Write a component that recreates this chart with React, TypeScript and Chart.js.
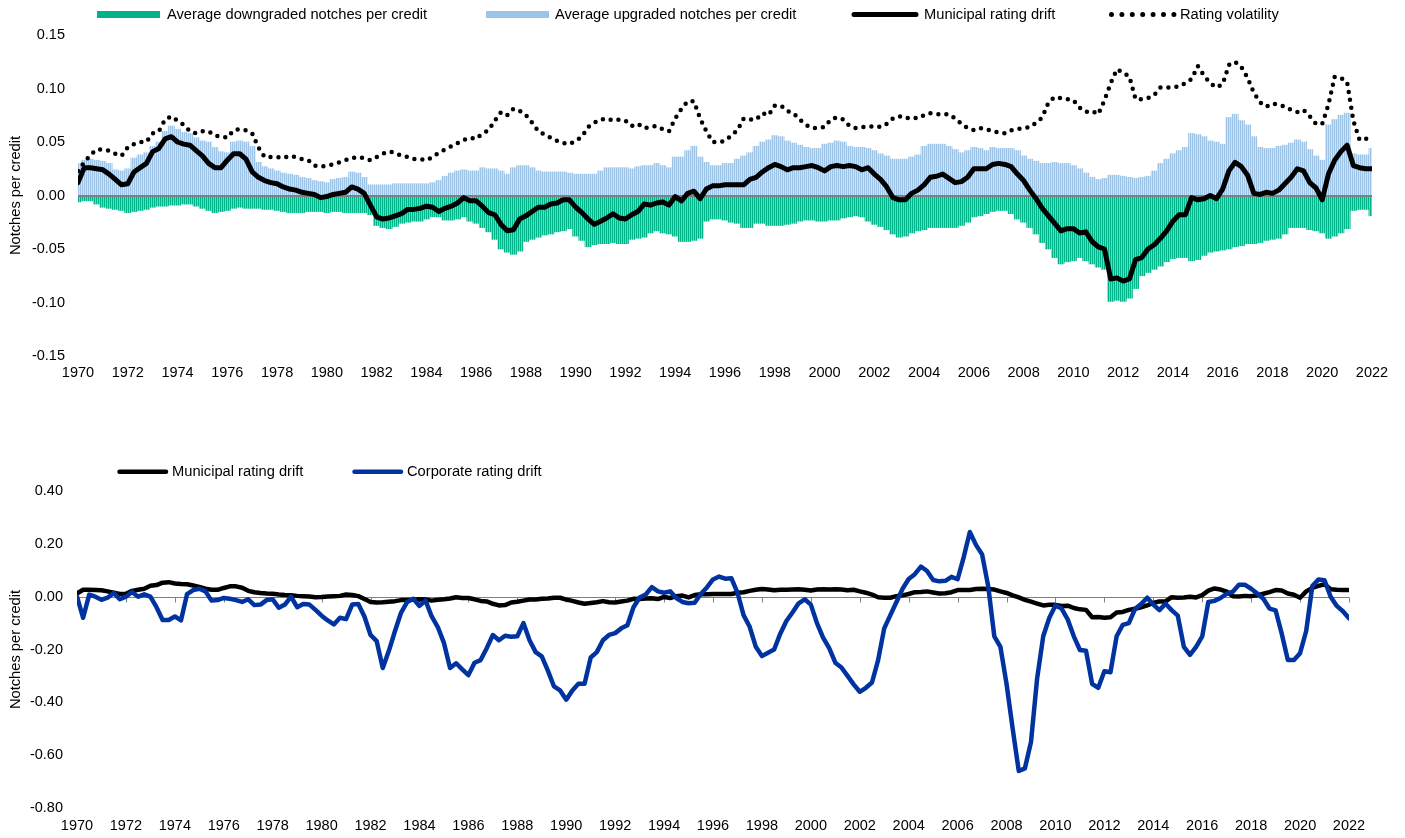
import { useEffect, useRef } from 'react';
import { Chart, registerables } from 'chart.js';

Chart.register(...registerables);

// ---- Data (quarterly readings, 1970 Q1 .. 2022 Q1) ----
const FIRST_YEAR = 1970;
const LAST_YEAR = 2022;
const PERIODS_PER_YEAR = 4;

const downgradedNotches: number[] = [
  -0.006, -0.005, -0.005, -0.008, // 1970
  -0.011, -0.012, -0.013, -0.014, // 1971
  -0.016, -0.015, -0.014, -0.013, // 1972
  -0.011, -0.010, -0.010, -0.009, // 1973
  -0.009, -0.008, -0.008, -0.010, // 1974
  -0.012, -0.014, -0.016, -0.015, // 1975
  -0.014, -0.012, -0.011, -0.012, // 1976
  -0.012, -0.012, -0.013, -0.013, // 1977
  -0.014, -0.015, -0.016, -0.016, // 1978
  -0.016, -0.015, -0.015, -0.015, // 1979
  -0.016, -0.015, -0.015, -0.016, // 1980
  -0.016, -0.016, -0.016, -0.018, // 1981
  -0.028, -0.030, -0.031, -0.029, // 1982
  -0.026, -0.025, -0.024, -0.024, // 1983
  -0.022, -0.020, -0.020, -0.023, // 1984
  -0.023, -0.022, -0.020, -0.024, // 1985
  -0.026, -0.030, -0.034, -0.041, // 1986
  -0.050, -0.053, -0.055, -0.052, // 1987
  -0.043, -0.041, -0.039, -0.037, // 1988
  -0.036, -0.034, -0.033, -0.031, // 1989
  -0.038, -0.042, -0.048, -0.046, // 1990
  -0.045, -0.045, -0.044, -0.045, // 1991
  -0.045, -0.041, -0.040, -0.039, // 1992
  -0.035, -0.033, -0.035, -0.036, // 1993
  -0.038, -0.043, -0.043, -0.042, // 1994
  -0.040, -0.024, -0.022, -0.022, // 1995
  -0.023, -0.025, -0.026, -0.030, // 1996
  -0.030, -0.026, -0.026, -0.028, // 1997
  -0.028, -0.028, -0.027, -0.026, // 1998
  -0.024, -0.023, -0.023, -0.024, // 1999
  -0.024, -0.023, -0.023, -0.021, // 2000
  -0.020, -0.019, -0.020, -0.024, // 2001
  -0.027, -0.029, -0.032, -0.036, // 2002
  -0.039, -0.038, -0.035, -0.033, // 2003
  -0.032, -0.030, -0.030, -0.030, // 2004
  -0.030, -0.030, -0.028, -0.025, // 2005
  -0.020, -0.019, -0.017, -0.015, // 2006
  -0.014, -0.014, -0.017, -0.022, // 2007
  -0.025, -0.030, -0.036, -0.044, // 2008
  -0.050, -0.058, -0.064, -0.062, // 2009
  -0.061, -0.058, -0.061, -0.064, // 2010
  -0.067, -0.069, -0.099, -0.098, // 2011
  -0.099, -0.096, -0.087, -0.075, // 2012
  -0.072, -0.069, -0.066, -0.062, // 2013
  -0.059, -0.058, -0.058, -0.061, // 2014
  -0.060, -0.056, -0.053, -0.052, // 2015
  -0.051, -0.050, -0.048, -0.047, // 2016
  -0.045, -0.045, -0.044, -0.042, // 2017
  -0.041, -0.040, -0.036, -0.030, // 2018
  -0.030, -0.030, -0.032, -0.033, // 2019
  -0.035, -0.040, -0.038, -0.035, // 2020
  -0.031, -0.014, -0.013, -0.013, // 2021
  -0.019, // 2022
];

const upgradedNotches: number[] = [
  0.030, 0.033, 0.034, 0.033, // 1970
  0.032, 0.030, 0.024, 0.023, // 1971
  0.025, 0.035, 0.038, 0.040, // 1972
  0.046, 0.050, 0.060, 0.065, // 1973
  0.062, 0.059, 0.058, 0.054, // 1974
  0.051, 0.050, 0.045, 0.041, // 1975
  0.040, 0.050, 0.051, 0.050, // 1976
  0.046, 0.031, 0.027, 0.025, // 1977
  0.023, 0.021, 0.020, 0.019, // 1978
  0.017, 0.016, 0.014, 0.013, // 1979
  0.012, 0.015, 0.016, 0.017, // 1980
  0.022, 0.021, 0.017, 0.010, // 1981
  0.010, 0.010, 0.010, 0.011, // 1982
  0.011, 0.011, 0.011, 0.011, // 1983
  0.011, 0.012, 0.014, 0.018, // 1984
  0.021, 0.023, 0.024, 0.023, // 1985
  0.023, 0.026, 0.025, 0.025, // 1986
  0.023, 0.020, 0.026, 0.028, // 1987
  0.028, 0.026, 0.023, 0.022, // 1988
  0.022, 0.022, 0.022, 0.021, // 1989
  0.020, 0.020, 0.020, 0.020, // 1990
  0.023, 0.026, 0.026, 0.026, // 1991
  0.026, 0.025, 0.027, 0.028, // 1992
  0.028, 0.030, 0.028, 0.026, // 1993
  0.036, 0.036, 0.042, 0.046, // 1994
  0.036, 0.031, 0.028, 0.028, // 1995
  0.030, 0.030, 0.034, 0.037, // 1996
  0.040, 0.046, 0.050, 0.052, // 1997
  0.056, 0.055, 0.051, 0.049, // 1998
  0.047, 0.045, 0.044, 0.044, // 1999
  0.048, 0.049, 0.051, 0.050, // 2000
  0.046, 0.045, 0.045, 0.044, // 2001
  0.042, 0.039, 0.037, 0.034, // 2002
  0.034, 0.034, 0.036, 0.038, // 2003
  0.046, 0.048, 0.048, 0.048, // 2004
  0.046, 0.043, 0.040, 0.042, // 2005
  0.045, 0.044, 0.042, 0.045, // 2006
  0.044, 0.044, 0.044, 0.042, // 2007
  0.037, 0.034, 0.032, 0.030, // 2008
  0.030, 0.031, 0.030, 0.030, // 2009
  0.028, 0.025, 0.021, 0.017, // 2010
  0.015, 0.016, 0.019, 0.019, // 2011
  0.018, 0.017, 0.016, 0.017, // 2012
  0.018, 0.023, 0.030, 0.034, // 2013
  0.039, 0.042, 0.045, 0.058, // 2014
  0.057, 0.055, 0.051, 0.050, // 2015
  0.048, 0.073, 0.076, 0.070, // 2016
  0.066, 0.055, 0.045, 0.044, // 2017
  0.044, 0.046, 0.047, 0.049, // 2018
  0.052, 0.050, 0.043, 0.037, // 2019
  0.033, 0.066, 0.071, 0.075, // 2020
  0.077, 0.039, 0.038, 0.038, // 2021
  0.044, // 2022
];

const municipalDrift: number[] = [
  0.012, 0.026, 0.026, 0.025, // 1970
  0.024, 0.020, 0.015, 0.010, // 1971
  0.011, 0.022, 0.026, 0.030, // 1972
  0.041, 0.044, 0.053, 0.055, // 1973
  0.050, 0.048, 0.047, 0.042, // 1974
  0.037, 0.030, 0.026, 0.026, // 1975
  0.033, 0.039, 0.039, 0.034, // 1976
  0.022, 0.017, 0.014, 0.012, // 1977
  0.011, 0.008, 0.006, 0.005, // 1978
  0.003, 0.002, 0.001, -0.002, // 1979
  -0.001, 0.001, 0.002, 0.003, // 1980
  0.008, 0.006, 0.002, -0.009, // 1981
  -0.020, -0.022, -0.021, -0.019, // 1982
  -0.017, -0.013, -0.013, -0.012, // 1983
  -0.010, -0.011, -0.015, -0.012, // 1984
  -0.010, -0.007, -0.002, -0.005, // 1985
  -0.005, -0.010, -0.016, -0.018, // 1986
  -0.027, -0.033, -0.032, -0.022, // 1987
  -0.019, -0.015, -0.011, -0.011, // 1988
  -0.008, -0.007, -0.004, -0.004, // 1989
  -0.011, -0.016, -0.022, -0.027, // 1990
  -0.024, -0.021, -0.017, -0.021, // 1991
  -0.022, -0.018, -0.015, -0.008, // 1992
  -0.009, -0.007, -0.006, -0.009, // 1993
  -0.001, -0.005, 0.002, 0.004, // 1994
  -0.003, 0.006, 0.009, 0.009, // 1995
  0.010, 0.010, 0.010, 0.010, // 1996
  0.015, 0.017, 0.022, 0.026, // 1997
  0.029, 0.027, 0.024, 0.026, // 1998
  0.026, 0.027, 0.028, 0.026, // 1999
  0.023, 0.027, 0.028, 0.027, // 2000
  0.028, 0.027, 0.024, 0.026, // 2001
  0.020, 0.015, 0.008, -0.002, // 2002
  -0.004, -0.004, 0.002, 0.005, // 2003
  0.010, 0.017, 0.018, 0.020, // 2004
  0.016, 0.012, 0.013, 0.017, // 2005
  0.025, 0.025, 0.025, 0.029, // 2006
  0.030, 0.029, 0.027, 0.020, // 2007
  0.014, 0.005, -0.003, -0.012, // 2008
  -0.019, -0.026, -0.033, -0.031, // 2009
  -0.031, -0.035, -0.034, -0.043, // 2010
  -0.048, -0.050, -0.078, -0.077, // 2011
  -0.080, -0.078, -0.060, -0.058, // 2012
  -0.050, -0.046, -0.040, -0.033, // 2013
  -0.024, -0.018, -0.018, -0.002, // 2014
  -0.004, -0.003, 0.000, -0.003, // 2015
  0.006, 0.023, 0.031, 0.027, // 2016
  0.019, 0.002, 0.001, 0.003, // 2017
  0.002, 0.005, 0.011, 0.017, // 2018
  0.025, 0.023, 0.012, 0.007, // 2019
  -0.004, 0.020, 0.033, 0.041, // 2020
  0.047, 0.028, 0.026, 0.025, // 2021
  0.025, // 2022
];

const ratingVolatility: number[] = [
  0.023, 0.031, 0.038, 0.043, // 1970
  0.043, 0.042, 0.039, 0.037, // 1971
  0.045, 0.048, 0.050, 0.050, // 1972
  0.058, 0.060, 0.071, 0.074, // 1973
  0.070, 0.066, 0.060, 0.058, // 1974
  0.060, 0.060, 0.056, 0.055, // 1975
  0.054, 0.061, 0.062, 0.061, // 1976
  0.058, 0.045, 0.036, 0.036, // 1977
  0.036, 0.035, 0.037, 0.036, // 1978
  0.034, 0.033, 0.028, 0.027, // 1979
  0.028, 0.029, 0.031, 0.033, // 1980
  0.035, 0.036, 0.035, 0.033, // 1981
  0.036, 0.039, 0.041, 0.040, // 1982
  0.037, 0.036, 0.034, 0.034, // 1983
  0.033, 0.036, 0.040, 0.043, // 1984
  0.046, 0.049, 0.052, 0.054, // 1985
  0.053, 0.058, 0.061, 0.070, // 1986
  0.078, 0.075, 0.081, 0.079, // 1987
  0.075, 0.068, 0.060, 0.057, // 1988
  0.054, 0.051, 0.049, 0.048, // 1989
  0.051, 0.055, 0.064, 0.068, // 1990
  0.071, 0.072, 0.070, 0.071, // 1991
  0.070, 0.065, 0.067, 0.063, // 1992
  0.064, 0.065, 0.062, 0.060, // 1993
  0.072, 0.081, 0.088, 0.088, // 1994
  0.072, 0.060, 0.050, 0.050, // 1995
  0.051, 0.056, 0.061, 0.072, // 1996
  0.071, 0.071, 0.077, 0.075, // 1997
  0.084, 0.084, 0.079, 0.077, // 1998
  0.071, 0.066, 0.063, 0.063, // 1999
  0.064, 0.071, 0.073, 0.071, // 2000
  0.065, 0.063, 0.064, 0.064, // 2001
  0.065, 0.064, 0.067, 0.072, // 2002
  0.074, 0.072, 0.073, 0.072, // 2003
  0.075, 0.077, 0.076, 0.076, // 2004
  0.076, 0.072, 0.067, 0.063, // 2005
  0.061, 0.063, 0.062, 0.060, // 2006
  0.059, 0.058, 0.061, 0.062, // 2007
  0.063, 0.064, 0.068, 0.073, // 2008
  0.087, 0.092, 0.091, 0.090, // 2009
  0.089, 0.082, 0.078, 0.079, // 2010
  0.076, 0.089, 0.105, 0.118, // 2011
  0.115, 0.111, 0.090, 0.090, // 2012
  0.091, 0.094, 0.101, 0.101, // 2013
  0.101, 0.102, 0.105, 0.109, // 2014
  0.121, 0.112, 0.105, 0.101, // 2015
  0.104, 0.122, 0.125, 0.120, // 2016
  0.110, 0.096, 0.087, 0.083, // 2017
  0.086, 0.085, 0.083, 0.080, // 2018
  0.078, 0.080, 0.074, 0.067, // 2019
  0.067, 0.085, 0.111, 0.110, // 2020
  0.106, 0.070, 0.052, 0.053, // 2021
  0.054, // 2022
];

const corporateDrift: number[] = [
  0.000, -0.080, 0.008, 0.000, // 1970
  -0.012, -0.004, 0.014, -0.010, // 1971
  0.000, 0.018, 0.000, 0.009, // 1972
  0.000, -0.040, -0.088, -0.088, // 1973
  -0.075, -0.090, 0.010, 0.025, // 1974
  0.030, 0.020, -0.015, -0.013, // 1975
  -0.005, -0.008, -0.013, -0.020, // 1976
  -0.010, -0.032, -0.030, -0.013, // 1977
  -0.010, -0.042, -0.030, 0.000, // 1978
  -0.040, -0.028, -0.030, -0.050, // 1979
  -0.072, -0.090, -0.105, -0.080, // 1980
  -0.085, -0.030, -0.028, -0.075, // 1981
  -0.145, -0.168, -0.270, -0.205, // 1982
  -0.130, -0.060, -0.020, -0.008, // 1983
  -0.035, -0.015, -0.075, -0.115, // 1984
  -0.175, -0.270, -0.252, -0.275, // 1985
  -0.297, -0.250, -0.240, -0.195, // 1986
  -0.145, -0.165, -0.148, -0.152, // 1987
  -0.150, -0.100, -0.165, -0.210, // 1988
  -0.226, -0.280, -0.340, -0.355, // 1989
  -0.390, -0.355, -0.330, -0.330, // 1990
  -0.230, -0.210, -0.165, -0.145, // 1991
  -0.138, -0.120, -0.108, -0.040, // 1992
  -0.003, 0.008, 0.036, 0.020, // 1993
  0.015, 0.020, -0.005, -0.020, // 1994
  -0.025, -0.023, 0.010, 0.035, // 1995
  0.065, 0.076, 0.068, 0.070, // 1996
  0.015, -0.070, -0.114, -0.190, // 1997
  -0.225, -0.212, -0.200, -0.140, // 1998
  -0.092, -0.060, -0.025, -0.010, // 1999
  -0.030, -0.100, -0.155, -0.195, // 2000
  -0.250, -0.268, -0.300, -0.332, // 2001
  -0.360, -0.345, -0.325, -0.240, // 2002
  -0.120, -0.070, -0.020, 0.030, // 2003
  0.067, 0.085, 0.114, 0.097, // 2004
  0.063, 0.058, 0.060, 0.075, // 2005
  0.066, 0.150, 0.245, 0.196, // 2006
  0.160, 0.040, -0.150, -0.190, // 2007
  -0.330, -0.499, -0.660, -0.650, // 2008
  -0.550, -0.310, -0.150, -0.080, // 2009
  -0.033, -0.045, -0.086, -0.150, // 2010
  -0.202, -0.205, -0.330, -0.345, // 2011
  -0.282, -0.286, -0.150, -0.107, // 2012
  -0.100, -0.047, -0.028, -0.004, // 2013
  -0.030, -0.051, -0.027, -0.051, // 2014
  -0.072, -0.190, -0.220, -0.190, // 2015
  -0.150, -0.020, -0.016, -0.005, // 2016
  0.011, 0.019, 0.045, 0.045, // 2017
  0.030, 0.012, -0.008, -0.045, // 2018
  -0.052, -0.140, -0.240, -0.240, // 2019
  -0.214, -0.130, 0.040, 0.065, // 2020
  0.062, 0.000, -0.035, -0.055, // 2021
  -0.082, // 2022
];

// ---- helpers ----
const periods = municipalDrift.map((_, i) => FIRST_YEAR + i / PERIODS_PER_YEAR);
const toPoints = (vals: number[]) => vals.map((y, i) => ({ x: periods[i], y }));

const FONT = '"Liberation Sans", Arial, Helvetica, sans-serif';
const TICK_FONT = { family: FONT, size: 14.5 };
const TITLE_FONT = { family: FONT, size: 14.7 };

const COLORS = {
  down: '#00B388',
  downLight: '#6ED5BB',
  up: '#9DC3E6',
  upLight: '#CFE2F3',
  muni: '#000000',
  vol: '#000000',
  corp: '#0033A0',
  zero: '#808080',
};

function stripePattern(dark: string, light: string): any {
  const c = document.createElement('canvas');
  c.width = 2;
  c.height = 1;
  const g = c.getContext('2d');
  if (!g) return dark;
  g.fillStyle = light;
  g.fillRect(0, 0, 2, 1);
  g.fillStyle = dark;
  g.fillRect(0, 0, 1, 1);
  return g.createPattern(c, 'repeat') || dark;
}

// Zero line (drawn above bars, below lines), optional tick marks at x ticks
const zeroLinePlugin = {
  id: 'zeroLine',
  beforeDatasetsDraw(chart: any) {
    chart.$zeroDrawn = false;
  },
  beforeDatasetDraw(chart: any, args: any, opts: any) {
    if (chart.$zeroDrawn || args.meta.type !== 'line') return;
    chart.$zeroDrawn = true;
    const { ctx, chartArea } = chart;
    const yScale = chart.scales.y;
    const xScale = chart.scales.x;
    const w = opts.width || 1;
    let y = Math.round(yScale.getPixelForValue(0));
    if (w % 2 === 1) y += 0.5;
    ctx.save();
    ctx.strokeStyle = opts.color || COLORS.zero;
    ctx.lineWidth = w;
    ctx.beginPath();
    ctx.moveTo(chartArea.left, y);
    ctx.lineTo(chartArea.right, y);
    if (opts.tickLength) {
      xScale.ticks.forEach((t: any) => {
        const x = Math.round(xScale.getPixelForValue(t.value)) + 0.5;
        ctx.moveTo(x, y);
        ctx.lineTo(x, y + opts.tickLength);
      });
    }
    ctx.stroke();
    ctx.restore();
  },
};

// Legend drawn at fixed places, labels taken from the datasets
const placedLegendPlugin = {
  id: 'placedLegend',
  afterDraw(chart: any, _args: any, opts: any) {
    if (!opts || !opts.items) return;
    const ctx = chart.ctx;
    ctx.save();
    for (const item of opts.items) {
      const ds = chart.data.datasets[item.index];
      const y = opts.y;
      ctx.setLineDash([]);
      if (item.kind === 'box') {
        ctx.fillStyle = item.color;
        ctx.fillRect(item.x, y - item.h / 2, item.w, item.h);
      } else {
        ctx.beginPath();
        ctx.strokeStyle = ds.borderColor;
        ctx.lineCap = 'round';
        if (item.kind === 'dots') {
          ctx.lineWidth = item.dot;
          ctx.setLineDash([0, item.spacing]);
        } else {
          ctx.lineWidth = ds.borderWidth;
        }
        ctx.moveTo(item.x, y);
        ctx.lineTo(item.x + item.w + 0.01, y);
        ctx.stroke();
      }
      ctx.setLineDash([]);
      ctx.fillStyle = '#000';
      ctx.font = opts.font;
      ctx.textBaseline = 'middle';
      ctx.textAlign = 'left';
      ctx.fillText(ds.label, item.textX, y);
    }
    ctx.restore();
  },
};

const fmtY = (v: any) => {
  const n = Number(v);
  return Math.abs(n) < 1e-9 ? '0.00' : n.toFixed(2);
};

function xAxis(height: number, padding: number): any {
  return {
    type: 'linear',
    min: FIRST_YEAR,
    max: LAST_YEAR,
    offset: false,
    grid: { display: false, drawTicks: false, offset: false },
    border: { display: false },
    ticks: {
      stepSize: 2,
      autoSkip: false,
      maxRotation: 0,
      minRotation: 0,
      padding,
      color: '#000',
      font: TICK_FONT,
      callback: (v: any) => String(v),
    },
    afterFit: (s: any) => {
      s.height = height;
    },
  };
}

function yAxis(min: number, max: number, step: number, width: number, padding: number): any {
  return {
    type: 'linear',
    min,
    max,
    grid: { display: false, drawTicks: false },
    border: { display: false },
    ticks: { stepSize: step, padding, color: '#000', font: TICK_FONT, callback: fmtY },
    title: {
      display: true,
      text: 'Notches per credit',
      color: '#000',
      font: TITLE_FONT,
      padding: { top: 7, bottom: 0 },
    },
    afterFit: (s: any) => {
      s.width = width;
    },
  };
}

export default function App() {
  const topRef = useRef<HTMLCanvasElement>(null);
  const bottomRef = useRef<HTMLCanvasElement>(null);

  useEffect(() => {
    const prevMargin = document.body.style.margin;
    document.body.style.margin = '0';
    if (!topRef.current || !bottomRef.current) return;

    const downPattern = stripePattern(COLORS.down, COLORS.downLight);
    const upPattern = stripePattern(COLORS.up, COLORS.upLight);

    const top = new Chart(topRef.current, {
      type: 'bar',
      data: {
        datasets: [
          {
            type: 'bar',
            label: 'Average downgraded notches per credit',
            data: toPoints(downgradedNotches),
            backgroundColor: downPattern,
            borderWidth: 0,
            grouped: false,
            barPercentage: 1,
            categoryPercentage: 1,
            order: 3,
          },
          {
            type: 'bar',
            label: 'Average upgraded notches per credit',
            data: toPoints(upgradedNotches),
            backgroundColor: upPattern,
            borderWidth: 0,
            grouped: false,
            barPercentage: 1,
            categoryPercentage: 1,
            order: 2,
          },
          {
            type: 'line',
            label: 'Municipal rating drift',
            data: toPoints(municipalDrift),
            borderColor: COLORS.muni,
            backgroundColor: COLORS.muni,
            borderWidth: 5,
            borderJoinStyle: 'round',
            borderCapStyle: 'round',
            pointRadius: 0,
            pointHoverRadius: 0,
            tension: 0,
            order: 1,
          },
          {
            type: 'line',
            label: 'Rating volatility',
            data: toPoints(ratingVolatility),
            borderColor: COLORS.vol,
            backgroundColor: COLORS.vol,
            borderWidth: 4.5,
            borderDash: [0, 8],
            borderCapStyle: 'round',
            pointRadius: 0,
            pointHoverRadius: 0,
            tension: 0,
            order: 0,
          },
        ],
      } as any,
      options: {
        responsive: false,
        animation: false,
        devicePixelRatio: 1,
        events: [],
        layout: { padding: { left: 0, right: 33, top: 35, bottom: 0 } },
        plugins: {
          legend: { display: false },
          tooltip: { enabled: false },
          zeroLine: { color: COLORS.zero, width: 2, tickLength: 0 },
          placedLegend: {
            y: 14.5,
            font: `14.7px ${FONT}`,
            items: [
              { index: 0, kind: 'box', x: 97, w: 63, h: 7, color: COLORS.down, textX: 167 },
              { index: 1, kind: 'box', x: 486, w: 63, h: 7, color: COLORS.up, textX: 555 },
              { index: 2, kind: 'line', x: 854, w: 62, textX: 924 },
              { index: 3, kind: 'dots', x: 1111.5, w: 62.4, spacing: 10.4, dot: 5, textX: 1180 },
            ],
          },
        } as any,
        scales: {
          x: xAxis(39, 8),
          y: yAxis(-0.15, 0.15, 0.05, 78, 13),
        },
      },
      plugins: [zeroLinePlugin, placedLegendPlugin] as any,
    });

    const bottom = new Chart(bottomRef.current, {
      type: 'line',
      data: {
        datasets: [
          {
            label: 'Municipal rating drift',
            data: toPoints(municipalDrift),
            borderColor: COLORS.muni,
            backgroundColor: COLORS.muni,
            borderWidth: 4.5,
            borderJoinStyle: 'round',
            borderCapStyle: 'round',
            pointRadius: 0,
            pointHoverRadius: 0,
            tension: 0,
            order: 1,
          },
          {
            label: 'Corporate rating drift',
            data: toPoints(corporateDrift),
            borderColor: COLORS.corp,
            backgroundColor: COLORS.corp,
            borderWidth: 4.5,
            borderJoinStyle: 'round',
            borderCapStyle: 'round',
            pointRadius: 0,
            pointHoverRadius: 0,
            tension: 0,
            order: 0,
          },
        ],
      } as any,
      options: {
        responsive: false,
        animation: false,
        devicePixelRatio: 1,
        events: [],
        layout: { padding: { left: 0, right: 56, top: 61, bottom: 0 } },
        plugins: {
          legend: { display: false },
          tooltip: { enabled: false },
          zeroLine: { color: COLORS.zero, width: 1, tickLength: 5 },
          placedLegend: {
            y: 41.7,
            font: `14.7px ${FONT}`,
            items: [
              { index: 0, kind: 'line', x: 119.5, w: 46.5, textX: 172 },
              { index: 1, kind: 'line', x: 354.5, w: 46.5, textX: 407 },
            ],
          },
        } as any,
        scales: {
          x: xAxis(30, 9),
          y: yAxis(-0.8, 0.4, 0.2, 77, 14),
        },
      },
      plugins: [zeroLinePlugin, placedLegendPlugin] as any,
    });

    return () => {
      top.destroy();
      bottom.destroy();
      document.body.style.margin = prevMargin;
    };
  }, []);

  return (
    <div style={{ position: 'relative', width: 1405, height: 838, background: '#ffffff' }}>
      <canvas
        ref={topRef}
        width={1405}
        height={395}
        style={{ position: 'absolute', left: 0, top: 0, width: 1405, height: 395 }}
      />
      <canvas
        ref={bottomRef}
        width={1405}
        height={408}
        style={{ position: 'absolute', left: 0, top: 430, width: 1405, height: 408 }}
      />
    </div>
  );
}
